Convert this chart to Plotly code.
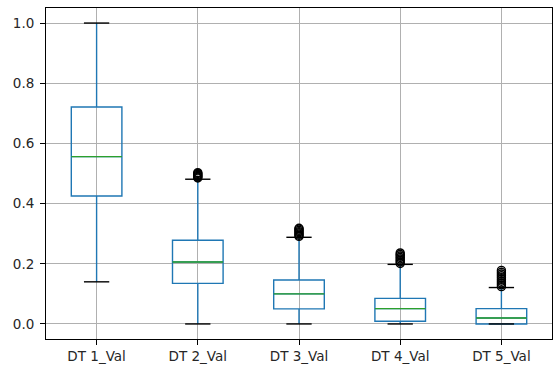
import plotly.graph_objects as go

# Summary statistics per column
categories = ["DT 1_Val", "DT 2_Val", "DT 3_Val", "DT 4_Val", "DT 5_Val"]
q1 = [0.425, 0.135, 0.050, 0.009, 0.000]
median = [0.556, 0.206, 0.100, 0.051, 0.020]
q3 = [0.721, 0.278, 0.146, 0.085, 0.051]
lower_whisker = [0.140, 0.000, 0.000, 0.000, 0.000]
upper_whisker = [1.000, 0.481, 0.288, 0.198, 0.121]

# Outlying observations beyond the upper whiskers
outliers = [
    [],
    [0.485, 0.488, 0.491, 0.494, 0.497, 0.500, 0.503],
    [0.291, 0.295, 0.299, 0.303, 0.307, 0.311, 0.315, 0.318],
    [0.201, 0.206, 0.211, 0.216, 0.221, 0.226, 0.231, 0.236],
    [0.124, 0.130, 0.136, 0.142, 0.148, 0.154, 0.160, 0.166, 0.172, 0.178],
]

y_ticks = [0.0, 0.2, 0.4, 0.6, 0.8, 1.0]

BLUE = "#1f77b4"
GREEN = "#2ca02c"
BLACK = "#000000"
GRID = "#b0b0b0"
BOX_W = 0.5
CAP_W = 0.25
LW = 1.4

positions = list(range(1, len(categories) + 1))

fig = go.Figure()

# Boxes and whiskers
fig.add_trace(go.Box(
    x=positions,
    q1=q1, median=median, q3=q3,
    lowerfence=lower_whisker, upperfence=upper_whisker,
    width=BOX_W,
    whiskerwidth=0,
    boxpoints=False,
    line=dict(color=BLUE, width=LW),
    fillcolor="rgba(0,0,0,0)",
    hoverinfo="skip",
    showlegend=False,
))

# Medians and whisker caps
for p, m, lo, hi in zip(positions, median, lower_whisker, upper_whisker):
    fig.add_trace(go.Scatter(
        x=[p - BOX_W / 2, p + BOX_W / 2], y=[m, m], mode="lines",
        line=dict(color=GREEN, width=LW), showlegend=False, hoverinfo="skip",
    ))
    for v in (lo, hi):
        fig.add_trace(go.Scatter(
            x=[p - CAP_W / 2, p + CAP_W / 2], y=[v, v], mode="lines",
            line=dict(color=BLACK, width=LW), showlegend=False, hoverinfo="skip",
        ))

# Fliers
for p, vals in zip(positions, outliers):
    if vals:
        fig.add_trace(go.Scatter(
            x=[p] * len(vals), y=vals, mode="markers",
            marker=dict(symbol="circle-open", size=8, color=BLACK,
                        line=dict(color=BLACK, width=1.4)),
            showlegend=False, hoverinfo="skip",
        ))

axis_common = dict(
    showline=True, linecolor=BLACK, linewidth=1, mirror=True,
    ticks="outside", ticklen=5, tickwidth=1, tickcolor=BLACK,
    showgrid=True, gridcolor=GRID, gridwidth=1, zeroline=False,
    tickfont=dict(family="DejaVu Sans", size=13.5, color="#262626"),
)

fig.update_layout(
    width=553, height=371,
    margin=dict(l=46, r=1, t=8, b=32),
    paper_bgcolor="white", plot_bgcolor="white",
    xaxis=dict(range=[0.5, 5.5], tickmode="array", tickvals=positions,
               ticktext=categories, **axis_common),
    yaxis=dict(range=[-0.05, 1.05], tickmode="array", tickvals=y_ticks,
               ticktext=[f"{v:.1f}" for v in y_ticks], ticklabelstandoff=3,
               **axis_common),
)

fig.write_html("out.html")
